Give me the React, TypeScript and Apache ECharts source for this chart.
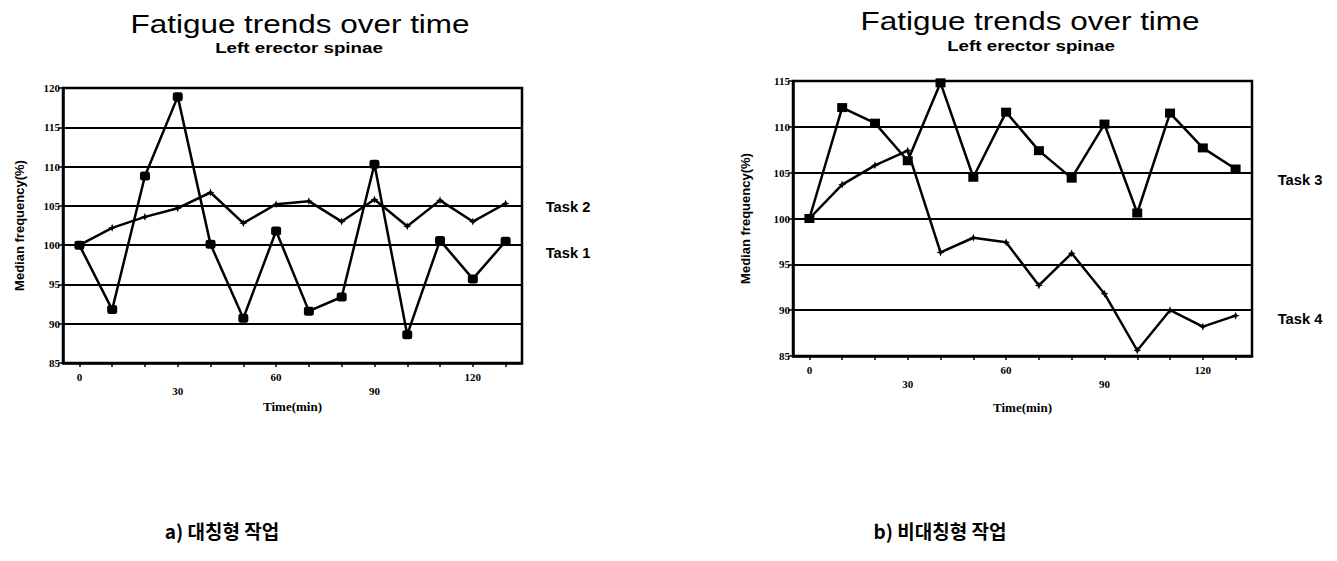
import React, { useEffect, useRef } from "react";
import * as echarts from "echarts";

const times = ["0", "10", "20", "30", "40", "50", "60", "70", "80", "90", "100", "110", "120", "130"];
const task1 = [100, 91.8, 108.8, 118.9, 100.1, 90.7, 101.8, 91.6, 93.4, 110.3, 88.6, 100.6, 95.7, 100.5];
const task2 = [100, 102.2, 103.6, 104.7, 106.7, 102.8, 105.2, 105.6, 103.0, 105.8, 102.4, 105.7, 103.0, 105.3];
const task3 = [100, 112.1, 110.4, 106.3, 114.8, 104.5, 111.6, 107.4, 104.4, 110.3, 100.6, 111.5, 107.7, 105.4];
const task4 = [100, 103.7, 105.8, 107.4, 96.3, 97.9, 97.4, 92.7, 96.2, 91.8, 85.6, 90.0, 88.2, 89.4];

const titleText = "Fatigue trends over time";
const subtitleText = "Left erector spinae";
const yName = "Median frequency(%)";
const xName = "Time(min)";
const captionA = "a) 대칭형 작업";
const captionB = "b) 비대칭형 작업";

const STAR = "path://M0,-1L0.28,-0.28L1,0L0.28,0.28L0,1L-0.28,0.28L-1,0L-0.28,-0.28Z";
const serif = "'Liberation Serif', 'DejaVu Serif', serif";
const sans = "'Liberation Sans', Arial, sans-serif";

function xAxisFor(gridIndex: number, nameGap: number) {
  return {
    type: "category",
    gridIndex,
    data: times,
    boundaryGap: true,
    name: xName,
    nameLocation: "middle",
    nameGap,
    nameTextStyle: { fontFamily: serif, fontWeight: "bold", fontSize: 13, color: "#000" },
    axisLine: { lineStyle: { color: "#000", width: 2.5 } },
    axisTick: { show: true, interval: 0, alignWithLabel: true, length: 4, lineStyle: { color: "#000", width: 1.5 } },
    axisLabel: {
      interval: 2,
      formatter: (v: string, i: number) => (i % 6 === 3 ? "\n" + v : v),
      fontFamily: serif,
      fontWeight: "bold",
      fontSize: 11,
      lineHeight: 14,
      color: "#000",
      margin: 7,
    },
    splitLine: { show: false },
  };
}

function yAxisFor(gridIndex: number, min: number, max: number, nameGap: number) {
  return {
    type: "value",
    gridIndex,
    min,
    max,
    interval: 5,
    name: yName,
    nameLocation: "middle",
    nameGap,
    nameRotate: 90,
    nameTextStyle: { fontFamily: sans, fontWeight: "bold", fontSize: 13, color: "#000" },
    axisLine: { show: true, lineStyle: { color: "#000", width: 2.5 } },
    axisTick: { show: true, length: 5, lineStyle: { color: "#000", width: 1.5 } },
    axisLabel: { fontFamily: serif, fontWeight: "bold", fontSize: 11, color: "#000", margin: 3 },
    splitLine: { show: true, lineStyle: { color: "#000", width: 2.2 } },
  };
}

function lineSeries(data: number[], xi: number, symbol: string, size: number | number[]) {
  return {
    type: "line",
    xAxisIndex: xi,
    yAxisIndex: xi,
    data,
    symbol,
    symbolSize: size,
    showSymbol: true,
    lineStyle: { color: "#000", width: 2.5 },
    itemStyle: { color: "#000" },
    z: 5,
  };
}

export default function App() {
  const ref = useRef<HTMLDivElement>(null);
  useEffect(() => {
    if (!ref.current) return;
    const chart = echarts.init(ref.current, null, { renderer: "svg" });
    const txt = (text: string, x: number, y: number, font: string, scaleX = 1) => ({
      type: "text",
      x,
      y,
      scaleX,
      style: { text, fill: "#000", font, textAlign: "center", textVerticalAlign: "middle" },
    });
    chart.setOption({
      animation: false,
      backgroundColor: "#fff",
      grid: [
        { left: 63, top: 88, width: 459, height: 275, show: true, borderColor: "#000", borderWidth: 2.5, outerBoundsMode: "none", containLabel: false },
        { left: 793, top: 81, width: 459, height: 275, show: true, borderColor: "#000", borderWidth: 2.5, outerBoundsMode: "none", containLabel: false },
      ],
      xAxis: [xAxisFor(0, 37), xAxisFor(1, 45)],
      yAxis: [yAxisFor(0, 85, 120, 37), yAxisFor(1, 85, 115, 41)],
      series: [
        lineSeries(task1, 0, "roundRect", [10, 9]),
        lineSeries(task2, 0, STAR, 8),
        lineSeries(task3, 1, "rect", [10, 9]),
        lineSeries(task4, 1, STAR, 8),
      ],
      graphic: [
        txt(titleText, 300, 24, `26px ${sans}`, 1.21),
        txt(subtitleText, 299, 48, `bold 15px ${sans}`, 1.25),
        txt(titleText, 1030, 21, `26px ${sans}`, 1.21),
        txt(subtitleText, 1031, 46, `bold 15px ${sans}`, 1.25),
        txt("Task 2", 568, 207, `bold 14px ${sans}`, 1.05),
        txt("Task 1", 568, 253, `bold 14px ${sans}`, 1.05),
        txt("Task 3", 1300, 180, `bold 14px ${sans}`, 1.05),
        txt("Task 4", 1300, 319, `bold 14px ${sans}`, 1.05),
        txt(captionA, 222, 530, `bold 19px 'Noto Sans CJK KR', sans-serif`),
        txt(captionB, 940, 530, `bold 19px 'Noto Sans CJK KR', sans-serif`),
      ],
    });
    return () => chart.dispose();
  }, []);
  return (
    <div
      ref={ref}
      style={{ position: "fixed", left: 0, top: 0, width: 1337, height: 561, background: "#fff" }}
    />
  );
}
